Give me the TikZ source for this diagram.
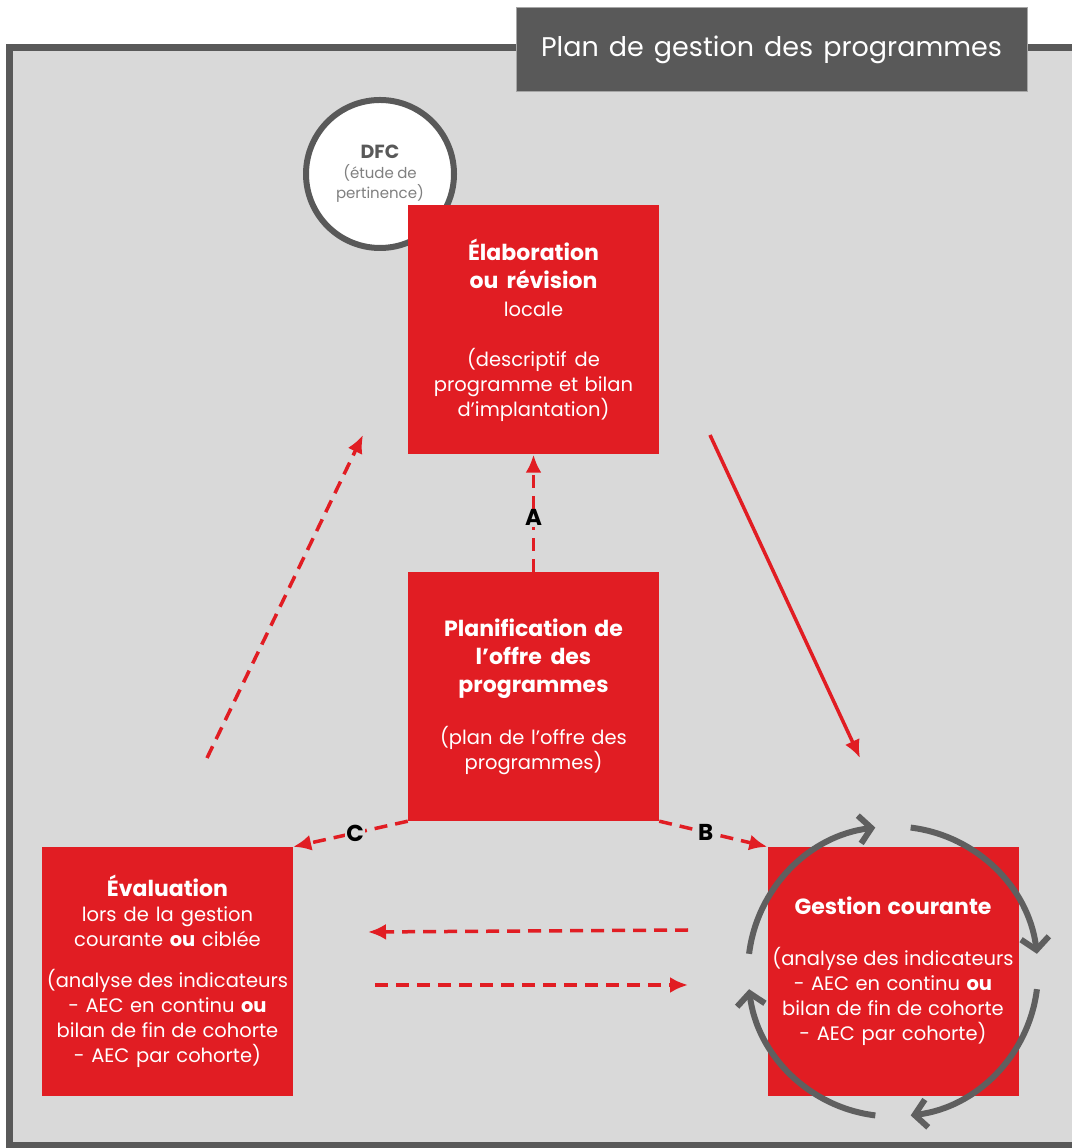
\documentclass[tikz,border=0pt]{standalone}
\usepackage{fontspec}
\setmainfont{Poppins}[WordSpace={1.4}]
\usetikzlibrary{arrows.meta,calc}
\definecolor{rd}{RGB}{225,29,35}
\definecolor{bg}{RGB}{217,217,217}
\definecolor{dk}{RGB}{89,89,89}
\definecolor{cy}{RGB}{95,95,95}
\definecolor{lt}{RGB}{128,128,128}
\newcommand\bfsz{\fontsize{22}{28}\selectfont\bfseries\spaceskip=0.22em plus 0.05em\relax}
\newcommand\rgsz{\fontsize{19.5}{25}\selectfont\mdseries\spaceskip=0.26em plus 0.05em\relax}
\begin{document}
\begin{tikzpicture}[x=1pt,y=1pt,
 box/.style={rectangle, fill=rd, text=white, inner sep=0pt, text width=251pt, minimum height=249pt, align=center},
 redline/.style={draw=rd, line width=3.5pt, -{Latex[length=18pt,width=16pt]}},
 reddash/.style={redline, dash pattern=on 13pt off 8pt},
 cyc/.style={draw=cy, line width=6pt, -{Straight Barb[length=12pt,width=28pt]}},
 lbl/.style={fill=bg, inner sep=1pt, font=\fontsize{23}{26}\selectfont\bfseries, text=black}]
\useasboundingbox (0,0) rectangle (1071,1148);
\path[fill=bg, draw=dk, line width=7pt] (9.5,2) rectangle (1080,1100.5);
\node[fill=dk, draw=gray!70, line width=1pt, minimum width=511pt, minimum height=84pt, inner sep=0pt, text=white, font=\fontsize{27}{30}\selectfont] (title) at (771.5,1098) {Plan de gestion des programmes};
\node[circle, draw=dk, line width=6pt, fill=white, minimum size=148pt, inner sep=0pt, text width=110pt, align=center] (dfc) at (380,974)
 {{\fontsize{19}{21}\selectfont\bfseries\color{dk}DFC\par}{\fontsize{15}{20}\selectfont\color{lt}(étude de\\pertinence)\par}};
\node[box] (elab) at (533.5,818) {\bfsz Élaboration\\ou révision\par\vspace{3pt}\rgsz locale\par\vspace{25pt}(descriptif de\\programme et bilan\\d’implantation)\par};
\node[box] (planif) at (533.5,451.5) {\bfsz Planification de\\l’offre des\\programmes\par\vspace{27pt}\rgsz(plan de l’offre des\\programmes)\par};
\node[box] (eval) at (167.5,176.5) {\bfsz Évaluation\par\rgsz lors de la gestion\\courante \textbf{ou} ciblée\par\vspace{16pt}(analyse des indicateurs\\- AEC en continu \textbf{ou}\\bilan de fin de cohorte\\- AEC par cohorte)\par};
\node[box] (gest) at (893,176.5) {\bfsz Gestion courante\par\vspace{26pt}\rgsz(analyse des indicateurs\\- AEC en continu \textbf{ou}\\bilan de fin de cohorte\\- AEC par cohorte)\par};
\coordinate (p1) at (207,390); \coordinate (p2) at (363,713);
\coordinate (s1) at (710,713); \coordinate (s2) at (860,390);
\coordinate (h1) at (688,218); \coordinate (h2) at (368,216);
\coordinate (h3) at (375,163); \coordinate (h4) at (688,163);
\draw[reddash] (planif.north) -- node[lbl, pos=0.46]{A} (elab.south);
\draw[reddash] (planif.south west) -- node[lbl, pos=0.46]{C} (eval.north east);
\draw[reddash] (planif.south east) -- node[lbl, pos=0.43]{B} (gest.north west);
\draw[reddash] (p1) -- (p2);
\draw[redline] (s1) -- (s2);
\draw[reddash] (h1) -- (h2);
\draw[reddash] (h3) -- (h4);
\draw[cyc] ([shift={(173:145)}]gest.center) arc[start angle=173, end angle=97, radius=145];
\draw[cyc] ([shift={(83:145)}]gest.center) arc[start angle=83, end angle=7, radius=145];
\draw[cyc] ([shift={(-7:145)}]gest.center) arc[start angle=-7, end angle=-83, radius=145];
\draw[cyc] ([shift={(-97:145)}]gest.center) arc[start angle=-97, end angle=-173, radius=145];
\end{tikzpicture}
\end{document}
